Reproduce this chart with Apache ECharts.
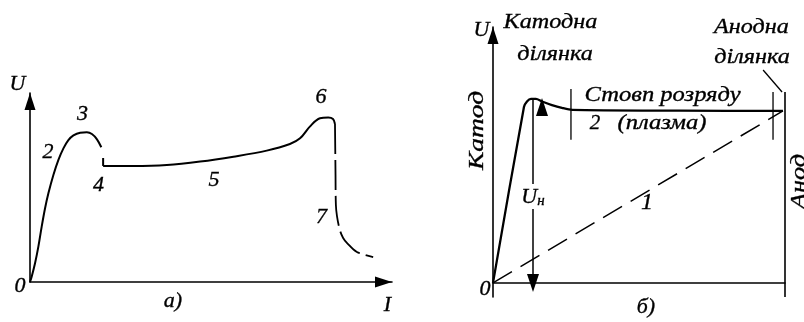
<!DOCTYPE html>
<html>
<head>
<meta charset="utf-8">
<script src="https://cdn.jsdelivr.net/npm/echarts@6/dist/echarts.min.js"></script>
<style>
html, body { margin: 0; padding: 0; background: #fff; }
#chart { width: 804px; height: 322px; }
</style>
</head>
<body>
<div id="chart"></div>
<script>
// Panel а): volt-ampere characteristic of a gas discharge (arbitrary units I, U)
const vacRise = [[0,0],[0.46,2.8],[1.39,9.9],[2.31,18.7],[3.23,29.3],[4.16,39.0],[5.08,46.9],[6.46,56.6],[7.85,64.6],[9.23,70.7],[10.6,75.1],[12.0,77.6],[13.85,79.0],[15.7,79.2],[17.1,78.3],[18.5,75.5],[19.7,71.3]];
const vacStep = [[20.2,65.6],[20.2,61.4]];
const vacGlow = [[20.2,61.4],[28.5,61.4],[37.8,61.9],[47.0,63.7],[56.2,66.3],[65.4,69.5],[71.8,73.0],[74.6,76.0],[77.3,82.2],[80.1,86.6],[82.4,87.0],[83.7,86.2],[84.25,83.6]];
const vacArc = [[84.25,83.6],[84.4,56.6],[84.5,40.7],[84.8,34.9],[85.6,27.5],[86.5,23.3],[87.6,20.6],[90.3,15.9],[94.8,13.2]];
const regionLabels = ['2', '3', '4', '5', '6', '7'];

// Panel б): potential distribution along the gap, cathode to anode
const potential = [[0,0],[10.6,68.75],[11.64,70.9],[13.0,71.9],[14.7,71.9],[16.8,70.9],[20.2,69.5],[23.6,68.4],[27.1,67.6],[64,67.3],[99.3,67.2]];
const vacuumLine = [[0,0],[99.3,67.2]];
const columnStart = [[26.7,75.8],[26.7,55.9]];
const anodeStart = [[95.9,74.6],[95.9,55.9]];
const anodeWall = [[100,-5.5],[100,74.6]];
const anodeLeader = [[92.5,83.2],[99.0,74.6]];
const cathodeFall = [[13.7,0],[13.7,72.3]];

const serif = '"Liberation Serif", "Times New Roman", serif';
const ink = '#000';

function txt(text, x, y, size, extra) {
  const el = {
    type: 'text', x: x, y: y, z: 100,
    style: {
      text: text, fill: ink, stroke: ink, lineWidth: 0.35,
      font: 'italic ' + size + 'px ' + serif,
      align: 'center', verticalAlign: 'middle'
    }
  };
  return Object.assign(el, extra || {});
}

function axisX(gridIndex, arrow) {
  return {
    type: 'value', gridIndex: gridIndex, min: 0, max: 100,
    axisLine: {
      show: true, onZero: true,
      lineStyle: { color: ink, width: 1.6 },
      symbol: arrow ? ['none', 'triangle'] : ['none', 'none'],
      symbolSize: [11, 17], symbolOffset: [0, -8.5]
    },
    axisTick: { show: false }, axisLabel: { show: false }, splitLine: { show: false }
  };
}
function axisY(gridIndex, min) {
  return {
    type: 'value', gridIndex: gridIndex, min: min, max: 100,
    axisLine: {
      show: true, onZero: true,
      lineStyle: { color: ink, width: 1.6 },
      symbol: ['none', 'triangle'],
      symbolSize: [11, 17], symbolOffset: [0, -8.5]
    },
    axisTick: { show: false }, axisLabel: { show: false }, splitLine: { show: false }
  };
}

function line(data, gi, opts) {
  return Object.assign({
    type: 'line', data: data, xAxisIndex: gi, yAxisIndex: gi,
    showSymbol: false, symbol: 'none', silent: true, animation: false,
    lineStyle: { color: ink, width: 2 }
  }, opts || {});
}

const chart = echarts.init(document.getElementById('chart'));
chart.setOption({
  backgroundColor: '#fff',
  animation: false,
  grid: [
    { left: 30, top: 93, width: 362, height: 189 },
    { left: 493, top: 27, width: 292, height: 270 }
  ],
  xAxis: [axisX(0, true), axisX(1, false)],
  yAxis: [axisY(0, 0), axisY(1, -5.5)],
  series: [
    line(vacRise, 0, { smooth: 0.35 }),
    line(vacStep, 0),
    line(vacGlow, 0, { smooth: 0.35 }),
    line(vacArc, 0, { smooth: 0.35, lineStyle: { color: ink, width: 1.8, type: [30, 6] } }),

    line(potential, 1, {
      smooth: 0.25,
      lineStyle: { color: ink, width: 2.3 },
      markLine: {
        silent: true, animation: false,
        symbol: ['triangle', 'triangle'], symbolSize: [12, 18], symbolOffset: [0, 9],
        lineStyle: { color: ink, width: 1.5, type: 'solid' },
        label: { show: false },
        data: [[{ coord: cathodeFall[0] }, { coord: cathodeFall[1] }]]
      }
    }),
    line(vacuumLine, 1, { lineStyle: { color: ink, width: 1.5, type: [22, 10] } }),
    line(columnStart, 1, { lineStyle: { color: ink, width: 1.3 } }),
    line(anodeStart, 1, { lineStyle: { color: ink, width: 1.3 } }),
    line(anodeWall, 1, { lineStyle: { color: ink, width: 1.6 } }),
    line(anodeLeader, 1, { lineStyle: { color: ink, width: 1.3 } })
  ],
  graphic: [
    // panel а)
    txt('U', 17.5, 84.5, 22),
    txt(regionLabels[0], 48, 152, 22),
    txt(regionLabels[1], 82.5, 114.5, 22),
    txt(regionLabels[2], 98.5, 185, 22),
    txt(regionLabels[3], 214, 180.5, 22),
    txt(regionLabels[4], 321, 97.5, 22),
    txt(regionLabels[5], 321.5, 217.5, 22),
    txt('0', 20, 286, 22),
    txt('а)', 173, 301.5, 22),
    txt('I', 387.5, 305, 22),

    // panel б)
    txt('U', 481.5, 30.5, 22),
    txt('Катодна', 550.5, 22.5, 22, { scaleX: 1.1 }),
    txt('ділянка', 555, 54.5, 22, { scaleX: 1.1 }),
    txt('Анодна', 751.5, 27.5, 22, { scaleX: 1.1 }),
    txt('ділянка', 752, 57.5, 22, { scaleX: 1.1 }),
    txt('Стовп розряду', 662.5, 95, 21, { scaleX: 1.17 }),
    txt('2', 595, 123.5, 21),
    txt('(плазма)', 662, 123, 21, { scaleX: 1.17 }),
    txt('Катод', 477, 130.5, 22, { rotation: Math.PI / 2, scaleX: 1.25 }),
    txt('Анод', 799, 181.5, 22, { rotation: Math.PI / 2, scaleX: 1.2 }),
    { type: 'rect', z: 99, shape: { x: 520, y: 184, width: 28, height: 25 }, style: { fill: '#fff' } },
    {
      type: 'text', x: 533, y: 197, z: 100,
      style: {
        text: '{u|U}{s|н}', align: 'center', verticalAlign: 'middle', fill: ink,
        rich: {
          u: { font: 'italic 22px ' + serif, fill: ink, stroke: ink, lineWidth: 0.35 },
          s: { font: 'italic 15px ' + serif, fill: ink, stroke: ink, lineWidth: 0.35, padding: [8, 0, 0, 0] }
        }
      }
    },
    txt('1', 647, 203, 24),
    txt('0', 485, 289.5, 22),
    txt('б)', 646, 307.5, 22)
  ]
});
</script>
</body>
</html>
